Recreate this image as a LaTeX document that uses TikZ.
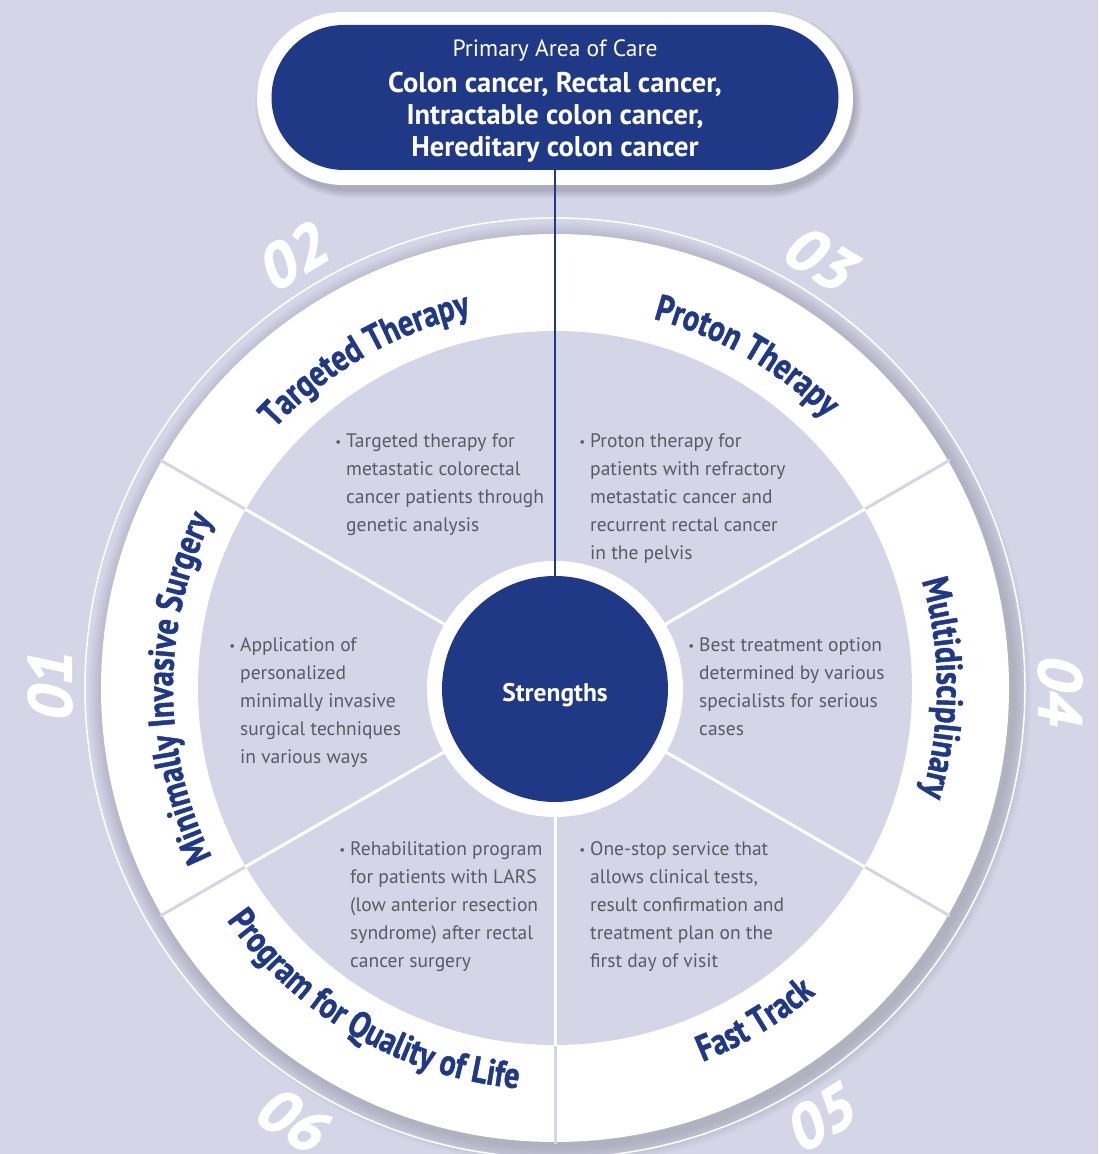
\documentclass[tikz,border=0pt]{standalone}
\usepackage{fontspec}
\setmainfont{PT Sans}
\newfontfamily\lblfam[FakeStretch=0.82,FakeBold=1.2]{PT Sans}
\newfontfamily\numfam[FakeSlant=0.22,FakeBold=2.2]{PT Sans}
\usetikzlibrary{decorations.text,shapes.misc}
\definecolor{navy}{RGB}{31,57,135}
\definecolor{lav}{RGB}{213,213,232}
\definecolor{bodygray}{RGB}{90,90,95}
\newcommand\lblfont{\lblfam\bfseries\fontsize{37}{40}\selectfont}
\newcommand\bul{\llap{\raisebox{1.5pt}{\fontsize{13}{13}\selectfont\textbullet}\hspace{5pt}}}
\begin{document}
\begin{tikzpicture}[x=1pt,y=1pt,
  bodytext/.style={anchor=base west, inner sep=0, text=bodygray, font=\fontsize{19.5}{28}\selectfont},
  numstyle/.style={text=white, font=\numfam\bfseries\fontsize{61}{61}\selectfont, inner sep=0},
  ringdiv/.style={lav, line width=3},
  innerdiv/.style={white, line width=3},
  ringlabel/.style={decorate, decoration={text along path, text align=center, text color=navy, text={|\lblfont|#1}}}
]
\fill[lav] (0,0) rectangle (1098,1154);
\useasboundingbox (0,0) rectangle (1098,1154);

\begin{scope}[shift={(555,466)}]
  % soft shadow of the ring
  \foreach \k in {0,...,9} \fill[black, opacity=0.014] (5,-6) circle (455+1.8*\k);
  \draw[white, line width=1.5] (0,0) circle (470);
  \fill[white] (0,0) circle (454);
  \fill[lav] (0,0) circle (357);
  \foreach \a in {30,150,210,270,330} \draw[ringdiv] (\a:355) -- (\a:456);
  \foreach \a in {30,150,210,270,330} \draw[innerdiv] (\a:120) -- (\a:358);
  \fill[white] (0,-1) circle (128);
  \node[circle, fill=navy, minimum size=226, inner sep=0] (str) at (0,-1) {};
  \node[text=white, inner sep=0, font=\fontsize{25.5}{25.5}\selectfont\bfseries] (strtxt) at (0,-7) {Strengths};

  % ring labels
  \path[ringlabel={Targeted Therapy}] (160:382) arc[start angle=160, end angle=80, radius=382];
  \path[ringlabel={Proton Therapy}] (100:382) arc[start angle=100, end angle=20, radius=382];
  \path[ringlabel={Multidisciplinary}] (40:382) arc[start angle=40, end angle=-40, radius=382];
  \path[ringlabel={Minimally Invasive Surgery}] (225:382) arc[start angle=225, end angle=135, radius=382];
  \path[ringlabel={Program for Quality of Life}] (195:402) arc[start angle=195, end angle=285, radius=402];
  \path[ringlabel={Fast Track}] (261:402) arc[start angle=261, end angle=341, radius=402];

  % numbers
  \node[numstyle, rotate=90] (n01) at (180:505) {01};
  \node[numstyle, rotate=31.5] (n02) at (121.5:505) {02};
  \node[numstyle, rotate=-31.5] (n03) at (58.5:505) {03};
  \node[numstyle, rotate=-90] (n04) at (0:505) {04};
  \node[numstyle, rotate=31.5] (n05) at (-58.5:505) {05};
  \node[numstyle, rotate=-31.5] (n06) at (-121.5:505) {06};
\end{scope}

% body texts
\node[bodytext] (tTarget) at (346, 1154-448) {\begin{tabular}[t]{@{}l@{}}\bul Targeted therapy for\\metastatic colorectal\\cancer patients through\\genetic analysis\end{tabular}};
\node[bodytext] (tProton) at (590, 1154-448) {\begin{tabular}[t]{@{}l@{}}\bul Proton therapy for\\patients with refractory\\metastatic cancer and\\recurrent rectal cancer\\in the pelvis\end{tabular}};
\node[bodytext] (tMIS) at (240, 1154-652) {\begin{tabular}[t]{@{}l@{}}\bul Application of\\personalized\\minimally invasive\\surgical techniques\\in various ways\end{tabular}};
\node[bodytext] (tMulti) at (699, 1154-652) {\begin{tabular}[t]{@{}l@{}}\bul Best treatment option\\determined by various\\specialists for serious\\cases\end{tabular}};
\node[bodytext] (tProg) at (350, 1154-856) {\begin{tabular}[t]{@{}l@{}}\bul Rehabilitation program\\for patients with LARS\\(low anterior resection\\syndrome) after rectal\\cancer surgery\end{tabular}};
\node[bodytext] (tFast) at (590, 1154-856) {\begin{tabular}[t]{@{}l@{}}\bul One-stop service that\\allows clinical tests,\\result confirmation and\\treatment plan on the\\first day of visit\end{tabular}};

% top pill
\foreach \k in {0,...,7} \fill[black, opacity=0.025, rounded corners=88+\k] (259-\k+3, 969-\k-6) rectangle (852+\k+3, 1142+\k-6);
\fill[white, rounded corners=86.5] (257,969) rectangle (853,1142);
\node[rounded rectangle, fill=navy, minimum width=567, minimum height=145, inner sep=0] (area) at (555,1056.5) {};
\node[anchor=base, inner sep=0, text=white] (areatxt) at (555, 1154-57) {\fontsize{28.5}{32}\selectfont\begin{tabular}[t]{@{}c@{}}{\fontsize{23.5}{32}\selectfont Primary Area of Care}\\[4pt]\bfseries Colon cancer, Rectal cancer,\\\bfseries Intractable colon cancer,\\\bfseries Hereditary colon cancer\end{tabular}};

% connector
\draw[navy, line width=2] (area.south) -- (str.north);
\end{tikzpicture}
\end{document}
